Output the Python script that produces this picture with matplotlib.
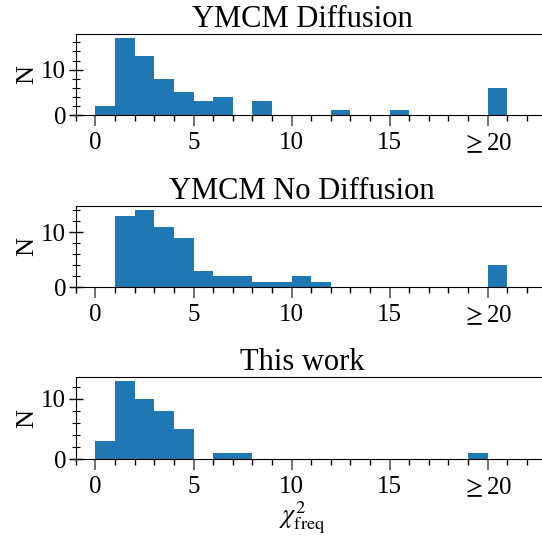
import matplotlib
matplotlib.use("Agg")
import matplotlib.pyplot as plt
import numpy as np
from matplotlib.ticker import MultipleLocator, FixedLocator

plt.rcParams['font.family'] = ['Liberation Serif', 'DejaVu Serif']
plt.rcParams['mathtext.fontset'] = 'stix'

# histogram bin edges (chi2 bins of width 1, last bin means >= 20)
bin_edges = list(range(0, 22))

# counts per bin
counts_diff = [2, 17, 13, 8, 5, 3, 4, 0, 3, 0, 0, 0, 1, 0, 0, 1, 0, 0, 0, 0, 6]
counts_nodiff = [0, 13, 14, 11, 9, 3, 2, 2, 1, 1, 2, 1, 0, 0, 0, 0, 0, 0, 0, 0, 4]
counts_this = [3, 13, 10, 8, 5, 0, 1, 1, 0, 0, 0, 0, 0, 0, 0, 0, 0, 0, 0, 1, 0]

titles = ["YMCM Diffusion", "YMCM No Diffusion", "This work"]
xtick_pos = [0, 5, 10, 15, 20]
xtick_labels = ["0", "5", "10", "15", r"$\geq$20"]

fig = plt.figure(figsize=(5.42, 5.40), dpi=100)

# [left, bottom, width, height] in figure fraction
positions = [
    [0.140, 0.787, 0.861, 0.150],
    [0.140, 0.468, 0.861, 0.150],
    [0.140, 0.150, 0.861, 0.152],
]

all_counts = [counts_diff, counts_nodiff, counts_this]
centers = np.array(bin_edges[:-1]) + 0.5

for i, (counts, title, pos) in enumerate(zip(all_counts, titles, positions)):
    ax = fig.add_axes(pos)
    ax.hist(centers, bins=bin_edges, weights=counts, color='#1f77b4')
    ax.set_xlim(-1, 22.8)
    # the original figure was cropped on the right, so titles sit left of centre
    ax.set_title(title, fontsize=22, pad=3, x=0.485)
    ax.set_ylabel("N", fontsize=19, labelpad=2)

    ax.spines['right'].set_visible(False)

    ax.xaxis.set_major_locator(FixedLocator(xtick_pos))
    ax.set_xticklabels(xtick_labels)
    ax.xaxis.set_minor_locator(MultipleLocator(1))
    ax.yaxis.set_major_locator(MultipleLocator(10))
    ax.yaxis.set_minor_locator(MultipleLocator(2))

    ax.tick_params(axis='x', which='major', direction='out', length=8,
                   width=1.2, color='0.35', labelsize=18, pad=4)
    ax.tick_params(axis='x', which='minor', direction='out', length=4,
                   width=1.0, color='black')
    ax.tick_params(axis='y', which='major', direction='inout', length=10,
                   width=1.0, labelsize=18, pad=2)
    ax.tick_params(axis='y', which='minor', direction='inout', length=6,
                   width=0.8)

    if i == 2:
        ax.set_xlabel(r"$\chi^2_{\rm freq}$", fontsize=19, labelpad=0, x=0.485)

fig.savefig("out.png", dpi=100)
